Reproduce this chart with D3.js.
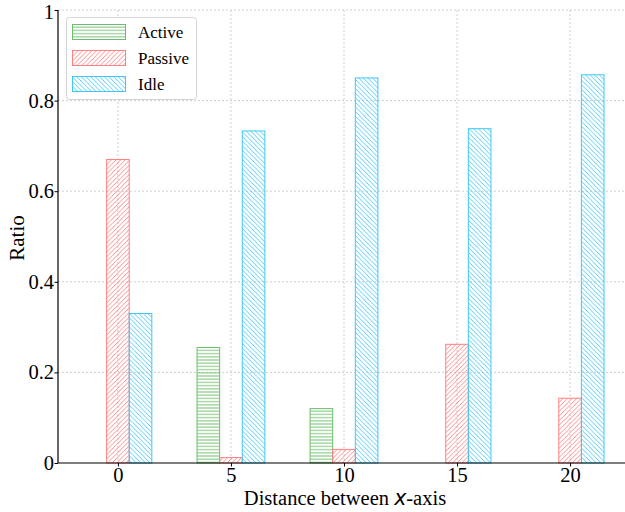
<!DOCTYPE html>
<html>
<head>
<meta charset="utf-8">
<script src="https://cdn.jsdelivr.net/npm/d3@7"></script>
<style>
  html, body { margin: 0; padding: 0; background: #fff; }
  svg { display: block; }
  text { font-family: "Liberation Serif", "Times New Roman", serif; fill: #000; }
</style>
</head>
<body>
<svg id="chart" width="625" height="512"></svg>
<script>
// Distance values on the x-axis
const distances = [0, 5, 10, 15, 20];
// Ratio of each state at every distance
const activeValues  = [0.000, 0.255, 0.120, 0.000, 0.000];
const passiveValues = [0.670, 0.012, 0.030, 0.262, 0.143];
const idleValues    = [0.330, 0.733, 0.850, 0.738, 0.857];
// Series names, in legend order
const seriesNames = ["Active", "Passive", "Idle"];
// Tick values
const xTickValues = [0, 5, 10, 15, 20];
const yTickValues = [0, 0.2, 0.4, 0.6, 0.8, 1];

const svg = d3.select("#chart");
const plotLeft = 58, plotRight = 630, plotTop = 10, plotBottom = 463;

const x = d3.scaleLinear().domain([-2.65, 22.65]).range([plotLeft, plotRight]);
const y = d3.scaleLinear().domain([0, 1]).range([plotBottom, plotTop]);

// Hatch patterns for each series
const defs = svg.append("defs");
const styles = {
  Active:  { color: "#6bbd6b", kind: "h" },
  Passive: { color: "#ff8080", kind: "f" },
  Idle:    { color: "#40c8f2", kind: "b" }
};
function makePattern(name) {
  const s = styles[name];
  if (s.kind === "h") {
    const p = defs.append("pattern").attr("id", "hatch-" + name)
      .attr("patternUnits", "userSpaceOnUse").attr("width", 6).attr("height", 3.2);
    p.append("line").attr("x1", 0).attr("x2", 6).attr("y1", 1.6).attr("y2", 1.6)
      .attr("stroke", s.color).attr("stroke-width", 0.9);
  } else {
    const p = defs.append("pattern").attr("id", "hatch-" + name)
      .attr("patternUnits", "userSpaceOnUse").attr("width", 4.6).attr("height", 4.6);
    if (s.kind === "f") {
      p.append("path").attr("d", "M-1,5.6 L5.6,-1 M-1,1 L1,-1 M3.6,5.6 L5.6,3.6")
        .attr("stroke", s.color).attr("stroke-width", 0.9);
    } else {
      p.append("path").attr("d", "M-1,-1 L5.6,5.6 M-1,3.6 L1,5.6 M3.6,-1 L5.6,1")
        .attr("stroke", s.color).attr("stroke-width", 0.9);
    }
  }
}
seriesNames.forEach(makePattern);

// Grid lines
const grid = svg.append("g");
grid.selectAll(".gx").data(xTickValues).join("line")
  .attr("x1", d => x(d)).attr("x2", d => x(d))
  .attr("y1", plotTop).attr("y2", plotBottom)
  .attr("stroke", "#cfcfcf").attr("stroke-width", 1).attr("stroke-dasharray", "2,2");
grid.selectAll(".gy").data(yTickValues.filter(v => v > 0)).join("line")
  .attr("x1", plotLeft).attr("x2", plotRight)
  .attr("y1", d => y(d)).attr("y2", d => y(d))
  .attr("stroke", "#cfcfcf").attr("stroke-width", 1).attr("stroke-dasharray", "2,2");

// Bars
const seriesData = [
  { name: "Active",  values: activeValues,  offset: -1 },
  { name: "Passive", values: passiveValues, offset: 0 },
  { name: "Idle",    values: idleValues,    offset: 1 }
];
const bw = x(1) - x(0);
seriesData.forEach(s => {
  svg.append("g").selectAll("rect")
    .data(distances.map((d, i) => ({ d, v: s.values[i] })))
    .join("rect")
    .attr("x", p => x(p.d + s.offset) - bw / 2)
    .attr("width", bw)
    .attr("y", p => y(p.v))
    .attr("height", p => y(0) - y(p.v))
    .attr("fill", "url(#hatch-" + s.name + ")")
    .attr("stroke", styles[s.name].color)
    .attr("stroke-width", 1);
});

// Axes
const xAxis = d3.axisBottom(x).tickValues(xTickValues).tickFormat(d3.format("d"))
  .tickSize(3.5).tickPadding(0.5);
const yAxis = d3.axisLeft(y).tickValues(yTickValues)
  .tickFormat(d => d === 0 ? "0" : d === 1 ? "1" : d3.format(".1f")(d))
  .tickSize(3.5).tickPadding(0.5);

const gx = svg.append("g").attr("transform", `translate(0,${plotBottom})`).call(xAxis);
const gy = svg.append("g").attr("transform", `translate(${plotLeft},0)`).call(yAxis);
[gx, gy].forEach(g => {
  g.select(".domain").attr("stroke", "#000").attr("stroke-width", 1.2);
  g.selectAll(".tick line").attr("stroke", "#000").attr("stroke-width", 1);
  g.selectAll(".tick text").style("font-family", "'Liberation Serif', serif")
    .style("font-size", "20.5px").attr("fill", "#000");
});
// keep the topmost label inside the page
gy.selectAll(".tick text").filter(d => d === 1).attr("dy", "0.42em");
gx.select(".domain").attr("d", `M${plotLeft},0H${plotRight}`);
gy.select(".domain").attr("d", `M0,${plotBottom}V${plotTop}`);

// Axis titles
const xt = svg.append("text").attr("x", 345).attr("y", 505)
  .attr("text-anchor", "middle").style("font-size", "20.5px");
xt.append("tspan").text("Distance between ");
xt.append("tspan").text("x").style("font-family", "'DejaVu Sans', sans-serif")
  .style("font-style", "italic").style("font-size", "20.5px");
xt.append("tspan").text("-axis");

svg.append("text").attr("transform", "translate(24,238) rotate(-90)")
  .attr("text-anchor", "middle").style("font-size", "21px").text("Ratio");

// Legend
const lg = svg.append("g");
lg.append("rect").attr("x", 66.5).attr("y", 17.5).attr("width", 130).attr("height", 82)
  .attr("rx", 3).attr("fill", "#fff").attr("fill-opacity", 0.85)
  .attr("stroke", "#d5d5d5").attr("stroke-width", 1);
seriesNames.forEach((name, i) => {
  const cy = 32 + i * 26;
  lg.append("rect").attr("x", 72.5).attr("y", cy - 7.5).attr("width", 53).attr("height", 15)
    .attr("fill", "url(#hatch-" + name + ")")
    .attr("stroke", styles[name].color).attr("stroke-width", 1);
  lg.append("text").attr("x", 138).attr("y", cy + 6)
    .style("font-size", "17px").text(name);
});
</script>
</body>
</html>
